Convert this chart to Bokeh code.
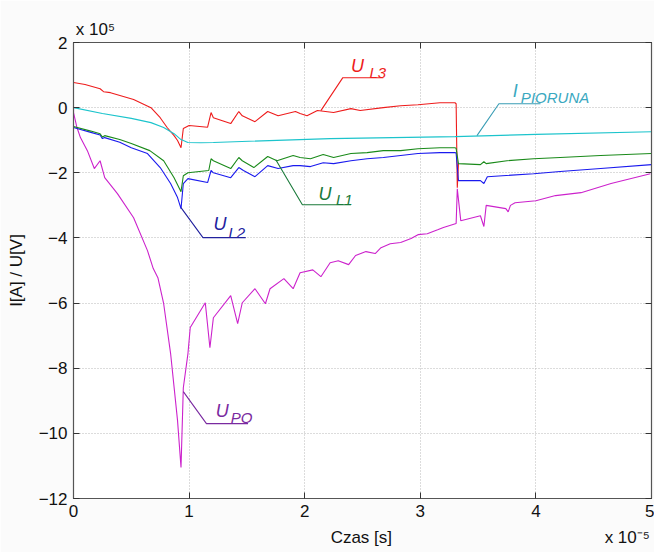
from bokeh.plotting import figure
from bokeh.models import Label, LinearAxis, FixedTicker, Range1d
from bokeh.embed import file_html
from bokeh.resources import INLINE

# time in units of 1e-5 s, values in units of 1e5
t_l3 = [0, 0.10, 0.23, 0.26, 0.32, 0.52, 0.67, 0.75, 0.81, 0.87, 0.90, 0.93, 0.95, 1.00,
        1.16, 1.19, 1.21, 1.36, 1.43, 1.46, 1.57, 1.68, 1.77, 1.92, 1.96, 2.02, 2.11, 2.25,
        2.40, 2.48, 2.68, 2.83, 2.98, 3.17, 3.30, 3.31, 3.32, 3.33]
u_l3 = [0.77, 0.71, 0.58, 0.49, 0.46, 0.25, 0.00, -0.31, -0.61, -0.86, -1.01, -1.23, -0.64, -0.55,
        -0.60, -0.15, -0.31, -0.49, -0.12, -0.25, -0.43, -0.12, -0.25, -0.12, -0.18, -0.25, -0.09, -0.15,
        -0.03, -0.09, 0.00, 0.06, 0.09, 0.15, 0.15, 0.12, -2.46, -1.72]

t_ip = [0, 0.25, 0.50, 0.67, 0.78, 0.87, 0.93, 0.99, 1.10, 1.21, 2.22, 3.30, 4.00, 5.00]
i_pioruna = [0, -0.18, -0.33, -0.46, -0.61, -0.80, -0.98, -1.07, -1.08, -1.07, -0.95, -0.89, -0.82, -0.74]

t_l1 = [0, 0.15, 0.23, 0.25, 0.27, 0.40, 0.50, 0.66, 0.78, 0.87, 0.93, 0.95, 0.99, 1.17, 1.19,
        1.21, 1.36, 1.43, 1.46, 1.56, 1.68, 1.76, 1.90, 1.96, 2.05, 2.16, 2.25, 2.40, 2.54, 2.68,
        2.83, 2.98, 3.17, 3.30, 3.31, 3.33, 3.52, 3.55, 3.57, 3.75, 3.98, 4.21, 4.56, 5.00]
u_l1 = [-0.58, -0.72, -0.80, -0.90, -0.86, -0.98, -1.10, -1.32, -1.63, -2.15, -2.58, -2.09, -2.00, -1.93, -1.57,
        -1.63, -1.87, -1.53, -1.63, -1.84, -1.50, -1.63, -1.47, -1.53, -1.57, -1.44, -1.53, -1.41, -1.38, -1.32,
        -1.32, -1.26, -1.23, -1.23, -1.25, -1.72, -1.75, -1.66, -1.72, -1.63, -1.57, -1.53, -1.47, -1.41]

t_l2 = [0, 0.15, 0.23, 0.25, 0.27, 0.40, 0.50, 0.64, 0.75, 0.84, 0.90, 0.93, 0.95, 0.99, 1.16,
        1.19, 1.21, 1.36, 1.43, 1.47, 1.57, 1.68, 1.77, 1.90, 1.96, 2.05, 2.16, 2.25, 2.40, 2.54,
        2.68, 2.83, 2.98, 3.17, 3.30, 3.31, 3.33, 3.52, 3.55, 3.58, 3.98, 4.21, 4.56, 5.00]
u_l2 = [-0.61, -0.76, -0.84, -0.95, -0.92, -1.06, -1.23, -1.41, -1.84, -2.33, -2.76, -3.10, -2.33, -2.18, -2.30,
        -1.93, -2.00, -2.15, -1.84, -1.93, -2.12, -1.78, -1.87, -1.78, -1.78, -1.81, -1.69, -1.72, -1.63, -1.57,
        -1.53, -1.47, -1.41, -1.38, -1.38, -1.40, -2.24, -2.24, -2.33, -2.12, -2.03, -1.96, -1.87, -1.75]

t_po = [0, 0.00, 0.03, 0.06, 0.12, 0.18, 0.23, 0.27, 0.38, 0.52, 0.64, 0.69, 0.73, 0.78, 0.84, 0.90,
        0.93, 0.95, 0.99, 1.01, 1.14, 1.18, 1.21, 1.36, 1.42, 1.46, 1.57, 1.66, 1.70, 1.82, 1.90,
        1.96, 2.07, 2.14, 2.22, 2.29, 2.38, 2.44, 2.53, 2.61, 2.66, 2.74, 2.83, 2.92, 2.98, 3.06,
        3.15, 3.20, 3.31, 3.32, 3.35, 3.52, 3.55, 3.57, 3.74, 3.76, 3.78, 3.82, 4.00, 4.17, 4.39,
        4.65, 4.99]
u_po = [0, -0.15, -0.61, -0.92, -1.32, -1.87, -1.63, -2.15, -2.64, -3.38, -4.39, -4.94, -5.22, -6.02, -7.55, -9.61,
        -11.05, -8.60, -7.55, -6.75, -5.99, -7.37, -6.45, -5.77, -6.63, -5.99, -5.56, -6.02, -5.56, -5.25, -5.56,
        -5.07, -4.98, -5.19, -4.76, -4.70, -4.82, -4.54, -4.42, -4.48, -4.30, -4.18, -4.14, -4.02, -3.90, -3.87,
        -3.75, -3.68, -3.56, -2.49, -3.47, -3.32, -3.65, -3.00, -3.10, -3.20, -3.00, -2.92, -2.86, -2.70, -2.61,
        -2.33, -2.03]

x_ticks = [0, 1, 2, 3, 4, 5]
y_ticks = [-12, -10, -8, -6, -4, -2, 0, 2]
x_title = "Czas [s]"
x_exp = "x 10\u207b\u2075"
y_exp = "x 10\u2075"
y_title = "I[A] / U[V]"

FONT = "Liberation Sans"
AX = "#555555"
TXT = "#111111"

p = figure(width=654, height=552, x_range=Range1d(0, 5), y_range=Range1d(-12, 2),
           output_backend="svg", toolbar_location=None,
           min_border_left=73, min_border_right=3, min_border_top=42, min_border_bottom=54)
p.background_fill_color = "white"
p.border_fill_color = "#fbfbfb"
p.outline_line_color = AX
p.outline_line_width = 1.2

for ax in (p.xaxis[0], p.yaxis[0]):
    ax.major_label_text_font = FONT
    ax.major_label_text_font_size = "17px"
    ax.major_label_text_color = TXT
    ax.axis_label_text_font = FONT
    ax.axis_label_text_font_size = "17px"
    ax.axis_label_text_font_style = "normal"
    ax.axis_label_text_color = TXT
    ax.axis_line_color = AX
    ax.major_tick_in = 6
    ax.major_tick_out = 0
    ax.minor_tick_line_color = None
    ax.major_tick_line_color = "#333333"
    ax.major_label_standoff = 6

p.xaxis.ticker = FixedTicker(ticks=x_ticks)
p.yaxis.ticker = FixedTicker(ticks=y_ticks)
p.yaxis.axis_label = y_title
p.yaxis.axis_label_standoff = 10

# inner top/right axes: tick marks only
for loc, ticks in (("above", x_ticks), ("right", y_ticks)):
    a = LinearAxis(ticker=FixedTicker(ticks=ticks),
                   major_label_overrides={t: "" for t in ticks})
    a.major_label_standoff = 0
    a.major_tick_in = 6
    a.major_tick_out = 0
    a.minor_tick_line_color = None
    a.axis_line_color = AX
    a.major_tick_line_color = "#333333"
    p.add_layout(a, loc)

def text_axis(loc, positions, texts, standoff):
    a = LinearAxis(ticker=FixedTicker(ticks=positions),
                   major_label_overrides=dict(zip(positions, texts)))
    a.axis_line_color = None
    a.major_tick_line_color = None
    a.minor_tick_line_color = None
    a.major_tick_out = 0
    a.major_tick_in = 0
    a.major_label_standoff = standoff
    a.major_label_text_font = FONT
    a.major_label_text_font_size = "17px"
    a.major_label_text_color = TXT
    p.add_layout(a, loc)
    return a

text_axis("below", [2.49, 4.79], [x_title, x_exp], 8)
text_axis("above", [0.19], [y_exp], 4)

p.xgrid.ticker = FixedTicker(ticks=x_ticks)
p.ygrid.ticker = FixedTicker(ticks=y_ticks)
for g in (p.xgrid[0], p.ygrid[0]):
    g.grid_line_color = "#b8b8b8"
    g.grid_line_dash = "1 2"
    g.grid_line_width = 1

LW = 1.1
p.line(t_l3, u_l3, line_color="#ee1c1c", line_width=LW)
p.line(t_ip, i_pioruna, line_color="#1cc4cc", line_width=LW)
p.line(t_po, u_po, line_color="#cc22cc", line_width=LW)
p.line(t_l2, u_l2, line_color="#1a1aee", line_width=LW)
p.line(t_l1, u_l1, line_color="#1a8a1a", line_width=LW)

# leader lines
p.line([2.14, 2.33, 2.68], [-0.09, 0.92, 0.92], line_color="#ee1c1c", line_width=LW)
p.line([3.49, 3.68, 4.04], [-0.86, 0.12, 0.12], line_color="#3a9db5", line_width=LW)
p.line([1.75, 1.98, 2.40], [-1.60, -2.98, -2.98], line_color="#1a7a3a", line_width=LW)
p.line([0.93, 1.12, 1.49], [-3.07, -3.99, -3.99], line_color="#22229e", line_width=LW)
p.line([0.95, 1.15, 1.51], [-8.72, -9.70, -9.70], line_color="#7a2aa0", line_width=LW)

def ann(x, y, main, sub, color, dx, dy):
    p.add_layout(Label(x=x, y=y, text=main, text_font=FONT, text_font_size="18px",
                       text_font_style="italic", text_color=color, text_baseline="alphabetic"))
    p.add_layout(Label(x=x + dx, y=y + dy, text=sub, text_font=FONT, text_font_size="15px",
                       text_font_style="italic", text_color=color, text_baseline="alphabetic"))

ann(2.40, 1.29, "U", "L3", "#ee1c1c", 0.16, -0.22)
ann(3.80, 0.52, "I", "PIORUNA", "#3aa8c0", 0.07, -0.21)
ann(2.12, -2.64, "U", "L1", "#1a7a3a", 0.15, -0.18)
ann(1.21, -3.56, "U", "L2", "#22229e", 0.13, -0.28)
ann(1.23, -9.30, "U", "PO", "#7a2aa0", 0.13, -0.22)

open("out.html", "w").write(file_html(p, INLINE))
